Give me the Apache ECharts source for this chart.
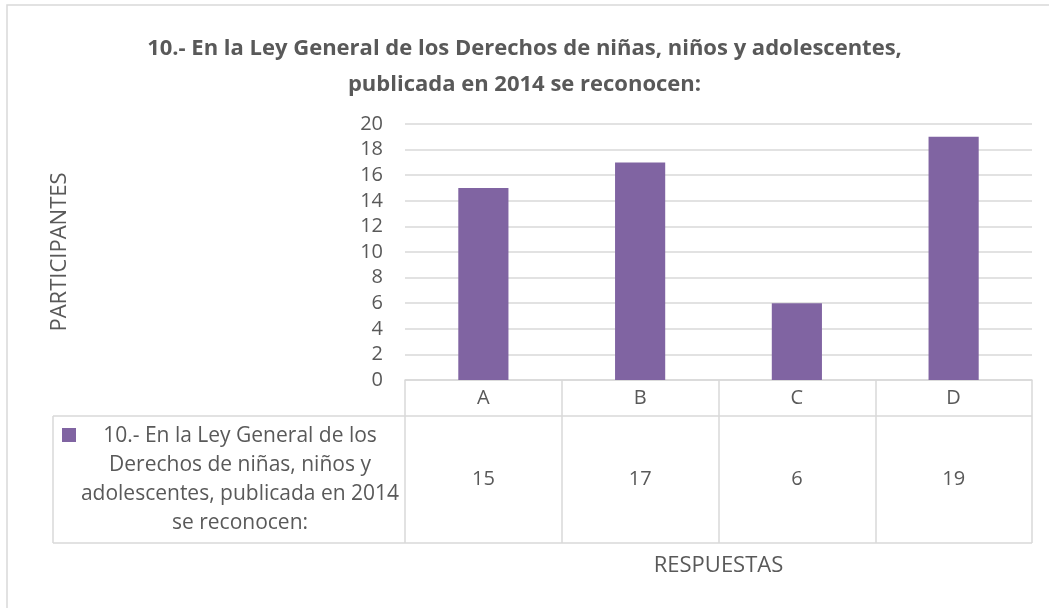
<!DOCTYPE html>
<html>
<head>
<meta charset="utf-8">
<script src="https://cdn.jsdelivr.net/npm/echarts@6/dist/echarts.min.js"></script>
<style>
  html, body { margin: 0; padding: 0; background: #fff; }
  #chart { width: 1049px; height: 608px; }
</style>
</head>
<body>
<div id="chart"></div>
<script>
// datos de la grafica
var categorias = ['A', 'B', 'C', 'D'];
var valores = [15, 17, 6, 19];
var nombreSerie = '10.- En la Ley General de los Derechos de niñas, niños y adolescentes, publicada en 2014 se reconocen:';
var lineasLeyenda = ['10.- En la Ley General de los', 'Derechos de niñas, niños y', 'adolescentes, publicada en 2014', 'se reconocen:'];
var titulo = '10.- En la Ley General de los Derechos de niñas, niños y adolescentes,\npublicada en 2014 se reconocen:';

var fuente = '"Open Sans", sans-serif';
var gris = '#595959';
var linea = '#d9d9d9';
var morado = '#8064a2';

var myChart = echarts.init(document.getElementById('chart'));

var option = {
    backgroundColor: '#fff',
    animation: false,
    title: {
        text: titulo,
        left: 'center',
        top: 26,
        textStyle: {
            fontFamily: fuente,
            fontSize: 22,
            fontWeight: 'bold',
            color: gris,
            lineHeight: 36
        }
    },
    grid: {
        left: 405,
        right: 17,
        top: 124,
        height: 256
    },
    xAxis: {
        type: 'category',
        data: categorias,
        axisLine: { lineStyle: { color: linea, width: 1.5 } },
        // las marcas hacen las lineas verticales de la tabla
        axisTick: { show: true, length: 163, lineStyle: { color: linea, width: 1.5 } },
        axisLabel: {
            margin: 0,
            interval: 0,
            formatter: function (value, index) {
                return '{c|' + value + '}\n{v|' + valores[index] + '}';
            },
            rich: {
                c: { fontFamily: fuente, fontSize: 20, color: gris, height: 36, lineHeight: 36 },
                v: { fontFamily: fuente, fontSize: 20, color: gris, height: 127, lineHeight: 127 }
            }
        },
        name: 'RESPUESTAS',
        nameLocation: 'middle',
        nameGap: 175,
        nameTextStyle: { fontFamily: fuente, fontSize: 22, color: gris }
    },
    yAxis: {
        type: 'value',
        min: 0,
        max: 20,
        interval: 2,
        axisLine: { show: false },
        axisTick: { show: false },
        axisLabel: { fontFamily: fuente, fontSize: 20, color: gris, margin: 22 },
        splitLine: { lineStyle: { color: linea, width: 1.5 } },
        name: 'PARTICIPANTES',
        nameLocation: 'middle',
        nameGap: 334,
        nameRotate: 90,
        nameTextStyle: { fontFamily: fuente, fontSize: 22, color: gris }
    },
    series: [
        {
            name: nombreSerie,
            type: 'bar',
            data: valores,
            barWidth: '32%',
            itemStyle: { color: morado }
        }
    ],
    graphic: [
        // borde exterior
        { type: 'rect', shape: { x: 7, y: 5, width: 1100, height: 700 }, style: { fill: null, stroke: linea, lineWidth: 1.5 }, silent: true },
        // lineas horizontales de la tabla
        { type: 'line', shape: { x1: 53, y1: 416, x2: 1032, y2: 416 }, style: { stroke: linea, lineWidth: 1.5 } },
        { type: 'line', shape: { x1: 53, y1: 543, x2: 1032, y2: 543 }, style: { stroke: linea, lineWidth: 1.5 } },
        { type: 'line', shape: { x1: 53, y1: 416, x2: 53, y2: 543 }, style: { stroke: linea, lineWidth: 1.5 } },
        // leyenda dentro de la tabla
        { type: 'rect', shape: { x: 62, y: 428, width: 14, height: 14 }, style: { fill: morado } },
        {
            type: 'text',
            x: 240,
            y: 479.5,
            style: {
                text: lineasLeyenda.join('\n'),
                font: '21px ' + fuente,
                fill: gris,
                align: 'center',
                verticalAlign: 'middle',
                lineHeight: 29
            }
        }
    ]
};

myChart.setOption(option);
</script>
</body>
</html>
